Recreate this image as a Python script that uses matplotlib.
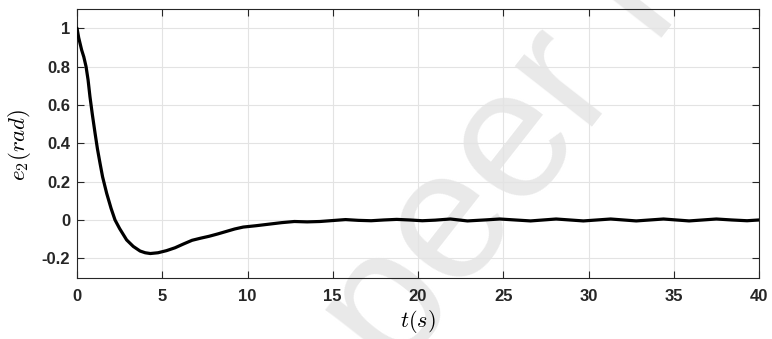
import matplotlib
matplotlib.use("Agg")
import matplotlib.pyplot as plt

# data
t = [0, 0.1, 0.27, 0.4, 0.53, 0.65, 0.76, 0.9, 1.06, 1.2, 1.35, 1.5, 1.74,
     2.0, 2.23, 2.5, 2.91, 3.3, 3.7, 4.0, 4.3, 4.75, 5.25, 5.75, 6.25, 6.75,
     7.25, 7.75, 8.25, 8.75, 9.25, 9.75, 10.5, 11.25, 12.0, 12.75, 13.5, 14.25,
     15.0, 15.75, 16.5, 17.25, 18.0, 18.75, 19.5, 20.25, 21.0, 21.9, 22.4,
     22.9, 23.9, 24.8, 25.7, 26.6, 27.35, 28.1, 28.9, 29.7, 30.5, 31.3, 32.05,
     32.8, 33.6, 34.4, 35.15, 35.9, 36.7, 37.5, 38.4, 39.3, 40.0]
e2 = [1.0, 0.95, 0.887, 0.85, 0.80, 0.73, 0.643, 0.55, 0.452, 0.37, 0.296,
      0.225, 0.139, 0.06, 0.0, -0.045, -0.104, -0.138, -0.162, -0.171,
      -0.175, -0.171, -0.16, -0.145, -0.125, -0.106, -0.095, -0.085, -0.073,
      -0.06, -0.047, -0.037, -0.03, -0.022, -0.014, -0.008, -0.01, -0.008,
      -0.003, 0.002, -0.002, -0.004, 0.0, 0.003, 0.0, -0.004, -0.001, 0.005,
      0.0, -0.005, 0.0, 0.005, 0.0, -0.005, 0.0, 0.005, 0.0, -0.005, 0.0,
      0.005, 0.0, -0.005, 0.0, 0.005, 0.0, -0.005, 0.0, 0.005, 0.0, -0.004,
      0.0]
xticks = [0, 5, 10, 15, 20, 25, 30, 35, 40]
yticks = [-0.2, 0, 0.2, 0.4, 0.6, 0.8, 1]
yticklabels = ["-0.2", "0", "0.2", "0.4", "0.6", "0.8", "1"]

plt.rcParams['font.family'] = ['Liberation Sans', 'DejaVu Sans']
plt.rcParams['mathtext.fontset'] = 'cm'

fig = plt.figure(figsize=(7.72, 3.39), dpi=100)
ax = fig.add_axes([77/772, 1-277.5/339, (759-77)/772, (277.5-9)/339])
ax.set_facecolor('none')

# watermark
fig.text(0.512, -0.118, "peer review", fontsize=133, color='#e9e9e9',
         rotation=52, rotation_mode='anchor', ha='left', va='baseline',
         zorder=-5, family='Liberation Sans')

ax.plot(t, e2, color='black', lw=2.3, zorder=3,
        solid_joinstyle='round', solid_capstyle='round')
ax.set_xlim(0, 40)
ax.set_ylim(-0.3, 1.1)
ax.set_xticks(xticks)
ax.set_xticklabels([str(v) for v in xticks])
ax.set_yticks(yticks)
ax.set_yticklabels(yticklabels)
ax.grid(True, color='#e3e3e3', lw=0.8)
ax.set_axisbelow(True)
for s in ax.spines.values():
    s.set_color('#262626')
    s.set_linewidth(0.8)
ax.tick_params(direction='in', length=5, width=0.8, color='#262626',
               top=True, right=True, labelsize=12, labelcolor='#262626')
ax.tick_params(axis='x', pad=8.5)
ax.tick_params(axis='y', pad=5)
for lab in ax.get_xticklabels() + ax.get_yticklabels():
    lab.set_fontweight('bold')
ax.set_xlabel(r'$t(s)$', fontsize=16)
ax.set_ylabel(r'$e_2(rad)$', fontsize=16.5)
ax.xaxis.set_label_coords(0.5, -0.112)
ax.yaxis.set_label_coords(-0.065, 0.495)

fig.savefig("out.png", dpi=100)
